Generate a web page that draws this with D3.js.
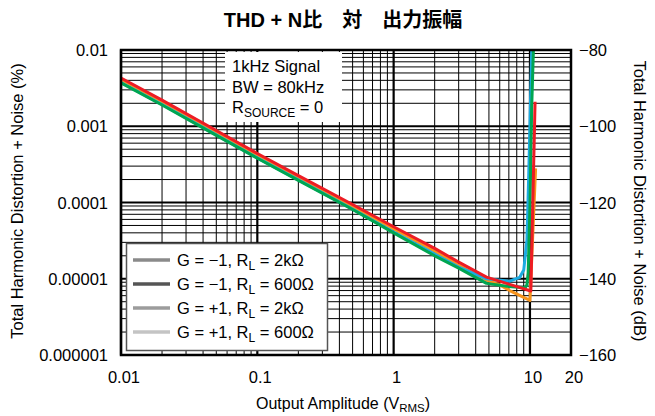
<!DOCTYPE html>
<html>
<head>
<meta charset="utf-8">
<script src="https://cdn.jsdelivr.net/npm/d3@7"></script>
<style>
  body { margin: 0; background: #fff; }
  text { font-family: "Liberation Sans", Arial, Helvetica, sans-serif; fill: #000; }
</style>
</head>
<body>
<svg id="chart" width="655" height="416"></svg>
<script>
// amplitude (Vrms) and THD+N (%)
var ampRed = [0.01, 0.02, 0.05, 0.1, 0.2, 0.5, 1, 2, 3, 4.8, 7, 10.15, 10.9];
var thdRed = [4.3e-3, 2.2e-3, 8.8e-4, 4.4e-4, 2.25e-4, 9.4e-5, 4.8e-5, 2.5e-5, 1.65e-5, 1.05e-5, 8.5e-6, 6.9e-6, 2.1e-3];

var ampOrange = [0.01, 0.02, 0.05, 0.1, 0.2, 0.5, 1, 2, 3, 4.8, 6, 7.1, 10.0, 11.0];
var thdOrange = [4.1e-3, 2.1e-3, 8.4e-4, 4.2e-4, 2.15e-4, 8.8e-5, 4.5e-5, 2.3e-5, 1.5e-5, 9.6e-6, 8.3e-6, 7.0e-6, 5.2e-6, 2.8e-4];

var ampGreen = [0.01, 0.02, 0.05, 0.1, 0.2, 0.5, 1, 2, 3, 4.8, 7, 9.2, 9.5, 9.7, 10, 10.3, 10.6];
var thdGreen = [3.7e-3, 1.9e-3, 7.6e-4, 3.8e-4, 1.95e-4, 8.1e-5, 4.0e-5, 2.0e-5, 1.38e-5, 8.7e-6, 7.9e-6, 7.6e-6, 8.3e-6, 1.2e-5, 8.7e-5, 1.8e-3, 1e-2];

var ampBlue = [0.01, 0.02, 0.05, 0.1, 0.2, 0.5, 1, 2, 3, 4.8, 7.1, 8.4, 9.0, 9.5, 9.8, 10.3];
var thdBlue = [3.75e-3, 1.93e-3, 7.7e-4, 3.85e-4, 1.98e-4, 8.2e-5, 4.1e-5, 2.1e-5, 1.42e-5, 1.0e-5, 9.3e-6, 1.04e-5, 1.3e-5, 3.2e-5, 2.4e-4, 1e-2];

var xTicks = [0.01, 0.1, 1, 10, 20];
var xTickLabels = ["0.01", "0.1", "1", "10", "20"];
var yTicks = [0.01, 0.001, 0.0001, 0.00001, 0.000001];
var yTickLabels = ["0.01", "0.001", "0.0001", "0.00001", "0.000001"];
var dbTicks = [-80, -100, -120, -140, -160];

var legendNames = [
  ["G = \u22121, R", "L", " = 2k\u03A9"],
  ["G = \u22121, R", "L", " = 600\u03A9"],
  ["G = +1, R", "L", " = 2k\u03A9"],
  ["G = +1, R", "L", " = 600\u03A9"]
];
var legendColors = ["#8a8a8a", "#555555", "#9c9c9c", "#c4c4c4"];

var svg = d3.select("#chart");
var pLeft = 121, pRight = 571, pTop = 50, pBottom = 355;

var x = d3.scaleLog().domain([0.01, 20]).range([pLeft, pRight]);
var y = d3.scaleLog().domain([0.000001, 0.01]).range([pBottom, pTop]);
var yDb = d3.scaleLinear().domain([-160, -80]).range([pBottom, pTop]);

// grid
var grid = svg.append("g");
var xGrid = [], yGrid = [];
[0.01, 0.1, 1, 10].forEach(function(d) {
  for (var k = 1; k <= 9; k++) {
    if (k * d <= 20) xGrid.push({ v: k * d, major: k == 1 });
  }
});
[0.000001, 0.00001, 0.0001, 0.001].forEach(function(d) {
  for (var k = 1; k <= 9; k++) yGrid.push({ v: k * d, major: k == 1 });
});

grid.selectAll(".vx").data(xGrid).enter().append("line")
  .attr("x1", function(d) { return x(d.v); })
  .attr("x2", function(d) { return x(d.v); })
  .attr("y1", pTop).attr("y2", pBottom)
  .attr("stroke", "#000")
  .attr("stroke-width", function(d) { return d.major ? 2.2 : 1; });

grid.selectAll(".hy").data(yGrid).enter().append("line")
  .attr("y1", function(d) { return y(d.v); })
  .attr("y2", function(d) { return y(d.v); })
  .attr("x1", pLeft).attr("x2", pRight)
  .attr("stroke", "#000")
  .attr("stroke-width", function(d) { return d.major ? 2.2 : 1; });

// condition box
var note = svg.append("g");
note.append("rect").attr("x", 225).attr("y", pTop + 2).attr("width", 117).attr("height", 70).attr("fill", "#fff");
note.append("text").attr("x", 232).attr("y", 72).style("font-size", "16.5px").text("1kHz Signal");
note.append("text").attr("x", 232).attr("y", 93).style("font-size", "16.5px").text("BW = 80kHz");
var rs = note.append("text").attr("x", 232).attr("y", 113).style("font-size", "16.5px");
rs.append("tspan").text("R");
rs.append("tspan").attr("dy", 4).style("font-size", "12px").text("SOURCE");
rs.append("tspan").attr("dy", -4).text(" = 0");

// curves
var line = d3.line()
  .x(function(d) { return x(d[0]); })
  .y(function(d) { return y(d[1]); });

var series = [
  { amp: ampOrange, thd: thdOrange, color: "#f7941d" },
  { amp: ampBlue, thd: thdBlue, color: "#1cabe2" },
  { amp: ampGreen, thd: thdGreen, color: "#00a651" },
  { amp: ampRed, thd: thdRed, color: "#ed1c24" }
];
series.forEach(function(s) {
  svg.append("path")
    .datum(d3.zip(s.amp, s.thd))
    .attr("fill", "none")
    .attr("stroke", s.color)
    .attr("stroke-width", 3)
    .attr("stroke-linejoin", "round")
    .attr("d", line);
});

// legend
var legend = svg.append("g");
legend.append("rect").attr("x", 126.5).attr("y", 243.5).attr("width", 201).attr("height", 107)
  .attr("fill", "#fff").attr("stroke", "#555").attr("stroke-width", 1.5);
legendNames.forEach(function(n, i) {
  var cy = 260 + i * 24;
  legend.append("line").attr("x1", 133).attr("x2", 170).attr("y1", cy).attr("y2", cy)
    .attr("stroke", legendColors[i]).attr("stroke-width", 3.5);
  var t = legend.append("text").attr("x", 177).attr("y", cy + 6).style("font-size", "16.5px");
  t.append("tspan").text(n[0]);
  t.append("tspan").attr("dy", 4).style("font-size", "12px").text(n[1]);
  t.append("tspan").attr("dy", -4).text(n[2]);
});

// frame
svg.append("rect").attr("x", pLeft).attr("y", pTop).attr("width", pRight - pLeft).attr("height", pBottom - pTop)
  .attr("fill", "none").attr("stroke", "#000").attr("stroke-width", 2.5);

// tick labels
svg.selectAll(".xl").data(xTicks).enter().append("text")
  .attr("x", function(d) { return x(d) + 3; })
  .attr("y", 383)
  .attr("text-anchor", "middle")
  .style("font-size", "16.5px")
  .text(function(d, i) { return xTickLabels[i]; });

svg.selectAll(".yl").data(yTicks).enter().append("text")
  .attr("x", 108)
  .attr("y", function(d) { return y(d) + 6; })
  .attr("text-anchor", "end")
  .style("font-size", "16.5px")
  .text(function(d, i) { return yTickLabels[i]; });

svg.selectAll(".dbl").data(dbTicks).enter().append("text")
  .attr("x", 579)
  .attr("y", function(d) { return yDb(d) + 6; })
  .style("font-size", "16.5px")
  .text(function(d) { return "\u2212" + Math.abs(d); });

// titles
svg.append("text").attr("x", 343).attr("y", 27).attr("text-anchor", "middle")
  .style("font-size", "20px").style("font-weight", "bold")
  .style("font-family", "'Liberation Sans', 'Noto Sans CJK JP', sans-serif")
  .text("THD + N\u6BD4\u3000\u5BFE\u3000\u51FA\u529B\u632F\u5E45");

var xt = svg.append("text").attr("x", 343).attr("y", 409).attr("text-anchor", "middle").style("font-size", "16px");
xt.append("tspan").text("Output Amplitude (V");
xt.append("tspan").attr("dy", 3).style("font-size", "11.5px").text("RMS");
xt.append("tspan").attr("dy", -3).text(")");

svg.append("text")
  .attr("transform", "translate(23,201) rotate(-90)")
  .attr("text-anchor", "middle").style("font-size", "16.5px")
  .text("Total Harmonic Distortion + Noise (%)");

svg.append("text")
  .attr("transform", "translate(634,201) rotate(90)")
  .attr("text-anchor", "middle").style("font-size", "16.5px")
  .text("Total Harmonic Distortion + Noise (dB)");
</script>
</body>
</html>
